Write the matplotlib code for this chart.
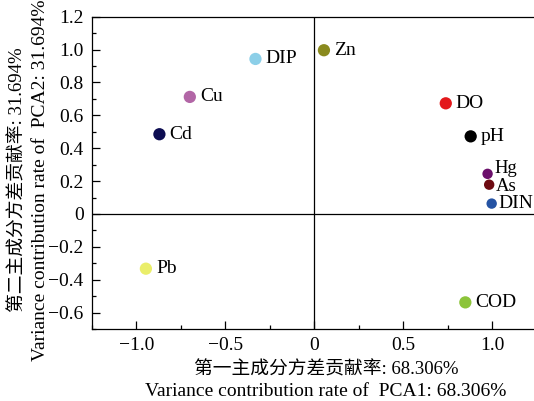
import matplotlib
matplotlib.use("Agg")
import matplotlib.pyplot as plt
from matplotlib.ticker import MultipleLocator, FuncFormatter

plt.rcParams['font.family'] = ['Liberation Serif', 'Noto Sans CJK SC']
plt.rcParams['font.size'] = 14

# PCA loadings
names = ["DIP", "Zn", "Cu", "Cd", "DO", "pH", "Hg", "As", "DIN", "Pb", "COD"]
pc1 = [-0.331, 0.054, -0.700, -0.871, 0.739, 0.879, 0.974, 0.983, 0.997, -0.947, 0.849]
pc2 = [0.943, 0.996, 0.712, 0.485, 0.673, 0.472, 0.244, 0.178, 0.063, -0.333, -0.538]
colors = ["#8ccfe8", "#8a8a1e", "#b266a6", "#0d0d52", "#e3181b", "#000000",
          "#6b0f6b", "#6e0b12", "#2553a3", "#eaee6a", "#8cc43a"]
small = ["Hg", "As", "DIN"]

W, H = 534, 401
fig = plt.figure(figsize=(W / 100, H / 100), dpi=100)
ax = fig.add_axes([92 / W, (H - 329) / H, 1 - 92 / W, (329 - 16.7) / H])

ax.axhline(0, color="black", lw=0.9, zorder=1)
ax.axvline(0, color="black", lw=0.9, zorder=1)

for n, x, y, c in zip(names, pc1, pc2, colors):
    s = 56 if n in small else 78
    ax.scatter(x, y, s=s, color=c, edgecolors="none", zorder=3)
    dx = 5 if n in small else 7.2
    dy = {"Hg": 4, "As": -1.5}.get(n, 0)
    fs = 13.5 if n in ("Hg", "As") else 14
    ax.annotate(n, (x, y), xytext=(dx, dy), textcoords="offset points",
                va="center", ha="left", fontsize=fs)

ax.set_xlim(-1.25, 1.235)
ax.set_ylim(-0.7, 1.2)

ax.xaxis.set_major_locator(MultipleLocator(0.5))
ax.xaxis.set_minor_locator(MultipleLocator(0.25))
ax.yaxis.set_major_locator(MultipleLocator(0.2))
ax.yaxis.set_minor_locator(MultipleLocator(0.1))

def fmt(v, pos):
    if abs(v) < 1e-9:
        return "0"
    return ("%.1f" % v).replace("-", "\u2212")

ax.xaxis.set_major_formatter(FuncFormatter(fmt))
ax.yaxis.set_major_formatter(FuncFormatter(fmt))

ax.tick_params(which="both", direction="in", top=False, right=False, width=0.9)
ax.tick_params(which="major", length=5.5, pad=6)
ax.tick_params(which="minor", length=3)

for side in ["left", "bottom", "top"]:
    ax.spines[side].set_linewidth(0.9)
ax.spines["right"].set_visible(False)

# axis titles, Chinese line then English line
xc = 326 / W
fig.text(xc, 1 - 370 / H, "第一主成分方差贡献率: 68.306%", ha="center", va="center", fontsize=13.5)
fig.text(xc, 1 - 391 / H, "Variance contribution rate of  PCA1: 68.306%", ha="center", va="center", fontsize=14)
yc = 1 - 180 / H
fig.text(18 / W, yc, "第二主成分方差贡献率: 31.694%", ha="center", va="center", rotation=90, fontsize=13.5)
fig.text(41 / W, yc, "Variance contribution rate of  PCA2: 31.694%", ha="center", va="center", rotation=90, fontsize=14)

plt.savefig("out.png", dpi=100)
